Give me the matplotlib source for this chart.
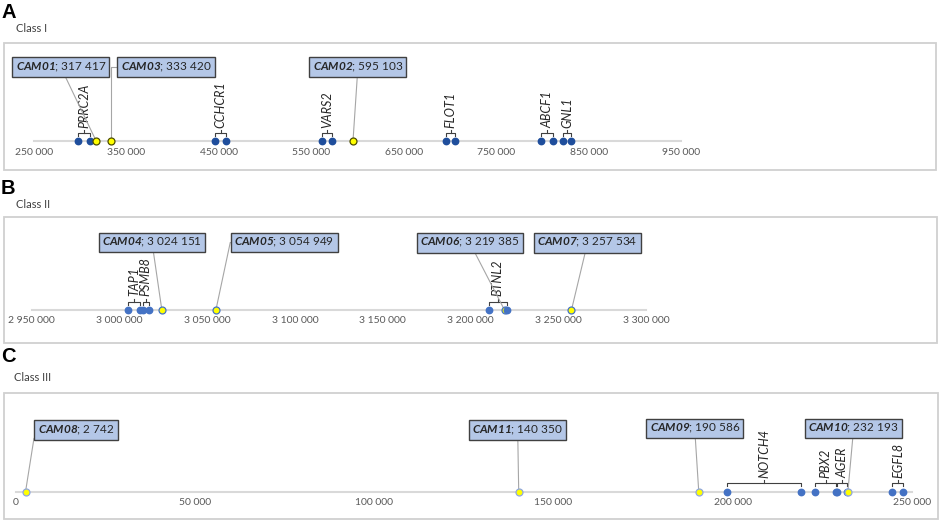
import matplotlib
matplotlib.use("Agg")
import matplotlib.pyplot as plt
from matplotlib.patches import Rectangle

plt.rcParams['font.family'] = ['Lato', 'DejaVu Sans']
plt.rcParams['mathtext.fontset'] = 'custom'
plt.rcParams['mathtext.rm'] = 'Lato'
plt.rcParams['mathtext.bfit'] = 'Lato:italic:bold'

# ---- data ---------------------------------------------------------------
a_ticks = [250000, 350000, 450000, 550000, 650000, 750000, 850000, 950000]
a_genes = ["PRRC2A", "CCHCR1", "VARS2", "FLOT1", "ABCF1", "GNL1"]
a_gene_start = [297900, 445900, 561400, 695900, 798700, 822200]
a_gene_end = [310600, 457800, 572800, 705600, 811400, 831200]
a_cams = ["CAM01", "CAM03", "CAM02"]
a_cam_pos = [317417, 333420, 595103]

b_ticks = [2950000, 3000000, 3050000, 3100000, 3150000, 3200000, 3250000, 3300000]
b_genes = ["TAP1", "PSMB8", "BTNL2"]
b_gene_start = [3004700, 3013200, 3210400]
b_gene_end = [3011700, 3016800, 3220800]
b_cams = ["CAM04", "CAM05", "CAM06", "CAM07"]
b_cam_pos = [3024151, 3054949, 3219385, 3257534]

c_ticks = [0, 50000, 100000, 150000, 200000, 250000]
c_genes = ["NOTCH4", "PBX2", "AGER", "EGFL8"]
c_gene_start = [198500, 223100, 229200, 244600]
c_gene_end = [219200, 228800, 231900, 247700]
c_cams = ["CAM08", "CAM11", "CAM09", "CAM10"]
c_cam_pos = [2742, 140350, 190586, 232193]

# ---- layout (pixels of the 941x521 picture) -------------------------------
W, H = 941, 521
fig = plt.figure(figsize=(W / 100, H / 100), dpi=100)


def fmt(v):
    return f"{v:,}".replace(",", " ")


def fpx(x, y):
    return (x, H - y)


def panel(box, calib, axis_y, ticks):
    l, t, r, b = box
    ax = fig.add_axes([l / W, 1 - b / H, (r - l) / W, (b - t) / H])
    (v0, p0), (v1, p1) = calib
    s = (v1 - v0) / (p1 - p0)
    ax.set_xlim(v0 - (p0 - l) * s, v1 + (r - p1) * s)
    ax.set_ylim(b, t)
    for side in ['top', 'left', 'right']:
        ax.spines[side].set_visible(False)
    sp = ax.spines['bottom']
    sp.set_position(('data', axis_y))
    sp.set_bounds(ticks[0], ticks[-1])
    sp.set_color('#d9d9d9')
    sp.set_linewidth(1.5)
    ax.set_xticks(ticks, [fmt(t) for t in ticks])
    ax.tick_params(axis='x', length=0, pad=4.5, labelsize=7.5, labelcolor='#595959')
    ax.set_yticks([])
    ax.patch.set_alpha(0)
    ax.add_patch(Rectangle((0, 0), 1, 1, transform=ax.transAxes, fill=False,
                           ec='#d0d0d0', lw=1.3, clip_on=False))
    return ax


def genes(ax, names, starts, ends, axis_y, color, z=4):
    for n, s, e in zip(names, starts, ends):
        yb = axis_y - 8.5
        m = (s + e) / 2
        ax.plot([s, s, e, e], [axis_y - 5.5, yb, yb, axis_y - 5.5],
                color='#404040', lw=0.8, zorder=2)
        ax.plot([m, m], [yb, axis_y - 11.5], color='#404040', lw=0.8, zorder=2)
        ax.text(m, axis_y - 13.5, n, rotation=90, ha='center', va='bottom',
                fontsize=9, style='italic', color='#262626')
    xs = starts + ends
    ax.plot(xs, [axis_y] * len(xs), 'o', ms=4.6, color=color, mec=color,
            zorder=z, clip_on=False)


def cams(ax, names, pos, axis_y, boxes, angles, edge):
    for n, p, (bx, by), ang in zip(names, pos, boxes, angles):
        cs = 'arc3' if ang is None else f'angle,angleA=0,angleB={ang},rad=0'
        ax.annotate(r"$\mathbfit{" + n + "}$; " + fmt(p), xy=(p, axis_y),
                    xytext=fpx(bx + 2.8, by), textcoords='figure pixels',
                    ha='left', va='center', fontsize=8.5, color='#262626',
                    bbox=dict(boxstyle='square,pad=0.28', fc='#b4c7e7',
                              ec='#404040', lw=1.0),
                    arrowprops=dict(arrowstyle='-', color='#a6a6a6', lw=0.8,
                                    shrinkA=0, shrinkB=0, connectionstyle=cs),
                    zorder=3)
    ax.plot(pos, [axis_y] * len(pos), 'o', ms=5, color='#ffff00', mec=edge,
            mew=0.9, zorder=5, clip_on=False)


def heading(x_letter, y_letter, letter, x_cls, y_cls, cls):
    fig.text(x_letter / W, 1 - y_letter / H, letter, fontsize=14.5,
             fontweight='bold', family='Liberation Sans', va='baseline')
    fig.text(x_cls / W, 1 - y_cls / H, cls, fontsize=8, color='#404040',
             va='baseline')


# ---- panel A ----------------------------------------------------------------
heading(1, 18.5, "A", 16, 31.5, "Class I")
axa = panel((4, 43, 936, 170), ((250000, 34), (950000, 681)), 141.3, a_ticks)
genes(axa, a_genes, a_gene_start, a_gene_end, 141.3, '#1f4e9c')
cams(axa, a_cams, a_cam_pos, 141.3,
     [(12.7, 67), (118, 67), (310, 67)], [None, 90, None], '#4d4d00')

# ---- panel B ----------------------------------------------------------------
heading(1, 194.5, "B", 16.5, 208, "Class II")
axb = panel((4, 217, 937, 343), ((2950000, 31.7), (3300000, 646)), 310, b_ticks)
genes(axb, b_genes, b_gene_start, b_gene_end, 310, '#4472c4', z=6)
cams(axb, b_cams, b_cam_pos, 310,
     [(99.3, 242.5), (231.7, 242.5), (417.3, 242.8), (534.6, 242.8)],
     [None, 78, None, None], '#4472c4')

# ---- panel C ----------------------------------------------------------------
heading(1, 362, "C", 13.5, 381, "Class III")
axc = panel((4, 393, 938, 519), ((0, 15.7), (250000, 911.7)), 491.7, c_ticks)
genes(axc, c_genes, c_gene_start, c_gene_end, 491.7, '#4472c4')
cams(axc, c_cams, c_cam_pos, 491.7,
     [(35, 430), (469.6, 430), (646.7, 428.5), (805.7, 428.5)],
     [81, None, None, None], '#8ea6e0')

fig.savefig("out.png", dpi=100)
